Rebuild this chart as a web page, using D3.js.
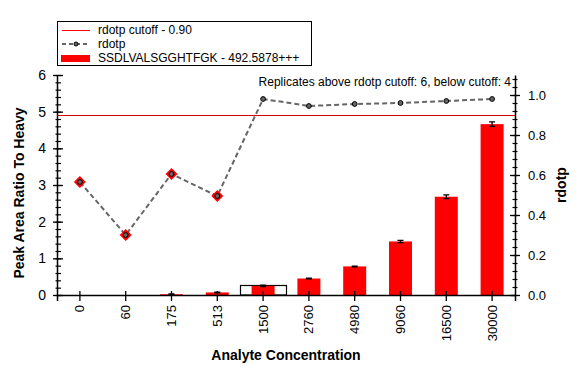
<!DOCTYPE html>
<html>
<head>
<meta charset="utf-8">
<script src="https://cdn.jsdelivr.net/npm/d3@7"></script>
<style>
  body { margin: 0; background: #fff; }
  text { font-family: "Liberation Sans", Arial, sans-serif; }
</style>
</head>
<body>
<div class="chart"></div>
<script>
// chart data
const concentrations = ["0", "60", "175", "513", "1500", "2760", "4980", "9060", "16500", "30000"];
const peakRatio = [0, 0, 0.02, 0.07, 0.25, 0.45, 0.78, 1.46, 2.68, 4.66];
const peakError = [0, 0, 0.01, 0.01, 0.02, 0.01, 0.01, 0.03, 0.05, 0.06];
const rdotp = [0.565, 0.30, 0.605, 0.495, 0.98, 0.945, 0.955, 0.96, 0.97, 0.98];
const cutoff = 0.9;
const selectedIndex = 4;
const selectedValue = 0.28;
const leftTicks = [0, 1, 2, 3, 4, 5, 6];
const rightTicks = [0, 0.2, 0.4, 0.6, 0.8, 1.0];

const width = 582, height = 376;
const margin = { top: 75, right: 67, bottom: 81, left: 57 };

const svg = d3.select(".chart").append("svg")
    .attr("width", width)
    .attr("height", height);

const x = d3.scaleBand()
    .domain(concentrations)
    .range([margin.left, width - margin.right])
    .paddingInner(0).paddingOuter(0);

const y = d3.scaleLinear()
    .domain([0, 6])
    .range([height - margin.bottom, margin.top]);

const y2 = d3.scaleLinear()
    .domain([0, 1.1])
    .range([height - margin.bottom, margin.top]);

const barW = 23;
const xc = d => x(d) + x.bandwidth() / 2;

// selection box (full band, outline)
svg.append("rect")
    .attr("x", Math.round(x(concentrations[selectedIndex])) + 0.5)
    .attr("y", Math.round(y(selectedValue)) + 0.5)
    .attr("width", Math.round(x.bandwidth()))
    .attr("height", y(0) - Math.round(y(selectedValue)) - 0.5)
    .attr("fill", "#fff")
    .attr("stroke", "#000")
    .attr("stroke-width", 1.2);

// bars
svg.append("g")
    .selectAll("rect")
    .data(concentrations)
    .join("rect")
    .attr("x", d => xc(d) - barW / 2)
    .attr("y", (d, i) => y(peakRatio[i]))
    .attr("width", barW)
    .attr("height", (d, i) => y(0) - y(peakRatio[i]))
    .attr("fill", "#ff0000");

// error bars
const err = svg.append("g")
    .attr("stroke", "#000")
    .attr("stroke-width", 1.3)
    .selectAll("g")
    .data(concentrations.filter((d, i) => peakRatio[i] > 0))
    .join("g");
err.append("path")
    .attr("fill", "none")
    .attr("d", d => {
        const i = concentrations.indexOf(d);
        const cx = xc(d);
        const lo = y(peakRatio[i] - peakError[i]), hi = y(peakRatio[i] + peakError[i]);
        return `M${cx},${lo}V${hi}M${cx - 3},${hi}h6M${cx - 3},${lo}h6`;
    });

// x axis
svg.append("g")
    .attr("transform", `translate(0,${y(0)})`)
    .call(d3.axisBottom(x).tickSizeOuter(0).tickSize(6).tickPadding(4))
    .call(g => g.select(".domain").attr("stroke-width", 1.5))
    .call(g => g.selectAll(".tick line").attr("y1", -4).attr("y2", 6).attr("stroke-width", 1.3))
    .call(g => g.selectAll(".tick text")
        .attr("transform", "rotate(-90)")
        .attr("x", -10).attr("y", 0).attr("dy", "0.35em")
        .style("text-anchor", "end")
        .style("font-size", "13px")
        .attr("fill", "#000"));

// left axis
svg.append("g")
    .attr("transform", `translate(${margin.left},0)`)
    .call(d3.axisLeft(y).tickValues(d3.range(0, 6.01, 0.2)).tickSize(0).tickFormat(""))
    .call(g => g.select(".domain").remove())
    .call(g => g.selectAll(".tick line").attr("x1", -1.5).attr("x2", 4).attr("stroke-width", 1.2));
svg.append("g")
    .attr("transform", `translate(${margin.left},0)`)
    .call(d3.axisLeft(y).tickValues(leftTicks).tickSize(4).tickSizeOuter(0).tickPadding(7).tickFormat(d3.format("d")))
    .call(g => g.select(".domain").attr("stroke-width", 1.5))
    .call(g => g.selectAll(".tick line").attr("x1", -4).attr("x2", 6).attr("stroke-width", 1.3))
    .call(g => g.selectAll(".tick text").style("font-size", "14px").attr("fill", "#000"));

// right axis
const rx = width - margin.right;
svg.append("g")
    .attr("transform", `translate(${rx},0)`)
    .call(d3.axisRight(y2).tickValues(d3.range(0, 1.081, 0.04)).tickSize(0).tickFormat(""))
    .call(g => g.select(".domain").remove())
    .call(g => g.selectAll(".tick line").attr("x1", -2.5).attr("x2", 2.5).attr("stroke-width", 1.2));
svg.append("g")
    .attr("transform", `translate(${rx},0)`)
    .call(d3.axisRight(y2).tickValues(rightTicks).tickSize(5).tickSizeOuter(0).tickPadding(8).tickFormat(d3.format(".1f")))
    .call(g => g.select(".domain").attr("stroke-width", 1.5))
    .call(g => g.selectAll(".tick line").attr("x1", -5).attr("x2", 5).attr("stroke-width", 1.3))
    .call(g => g.selectAll(".tick text").style("font-size", "13px").attr("fill", "#000"));

// cutoff line
const cy = Math.round(y2(cutoff)) + 0.5;
svg.append("line")
    .attr("x1", margin.left).attr("x2", rx)
    .attr("y1", cy).attr("y2", cy)
    .attr("stroke", "#d00000")
    .attr("stroke-width", 1);

// rdotp line
const line = d3.line()
    .x((d, i) => xc(concentrations[i]))
    .y(d => y2(d));
svg.append("path")
    .datum(rdotp)
    .attr("d", line)
    .attr("fill", "none")
    .attr("stroke", "#666")
    .attr("stroke-width", 2)
    .attr("stroke-dasharray", "5,3");

// red diamonds for points below cutoff
svg.append("g")
    .selectAll("path")
    .data(rdotp.map((v, i) => [i, v]).filter(d => d[1] < cutoff))
    .join("path")
    .attr("transform", d => `translate(${xc(concentrations[d[0]])},${y2(d[1])})`)
    .attr("d", "M0,-6L6,0L0,6L-6,0Z")
    .attr("fill", "#ff0000");

svg.append("g")
    .selectAll("circle")
    .data(rdotp)
    .join("circle")
    .attr("cx", (d, i) => xc(concentrations[i]))
    .attr("cy", d => y2(d))
    .attr("r", 2.4)
    .attr("fill", "#666")
    .attr("stroke", "#000")
    .attr("stroke-width", 1);

// annotation
svg.append("text")
    .attr("x", rx - 4)
    .attr("y", 86)
    .attr("text-anchor", "end")
    .style("font-size", "12px")
    .text("Replicates above rdotp cutoff: " + rdotp.filter(v => v >= cutoff).length +
          ", below cutoff: " + rdotp.filter(v => v < cutoff).length);

// axis titles
svg.append("text")
    .attr("x", (margin.left + rx) / 2)
    .attr("y", 360)
    .attr("text-anchor", "middle")
    .style("font-size", "14px")
    .style("font-weight", "bold")
    .text("Analyte Concentration");

svg.append("text")
    .attr("transform", `translate(24,${(y(0) + y(6)) / 2 + 8}) rotate(-90)`)
    .attr("text-anchor", "middle")
    .style("font-size", "14px")
    .style("font-weight", "bold")
    .text("Peak Area Ratio To Heavy");

svg.append("text")
    .attr("transform", `translate(566,${(y(0) + y(6)) / 2}) rotate(-90)`)
    .attr("text-anchor", "middle")
    .style("font-size", "14px")
    .style("font-weight", "bold")
    .text("rdotp");

// legend
const legend = svg.append("g");
legend.append("rect")
    .attr("x", 57.5).attr("y", 21.5)
    .attr("width", 254).attr("height", 44)
    .attr("fill", "#fff")
    .attr("stroke", "#000")
    .attr("stroke-width", 1);
legend.append("line")
    .attr("x1", 62).attr("x2", 90).attr("y1", 30.5).attr("y2", 30.5)
    .attr("stroke", "#ff0000").attr("stroke-width", 1);
legend.append("line")
    .attr("x1", 62).attr("x2", 90).attr("y1", 44).attr("y2", 44)
    .attr("stroke", "#666").attr("stroke-width", 2).attr("stroke-dasharray", "4,3");
legend.append("circle")
    .attr("cx", 76).attr("cy", 44).attr("r", 2)
    .attr("fill", "#666").attr("stroke", "#000");
legend.append("rect")
    .attr("x", 61).attr("y", 55).attr("width", 29).attr("height", 7)
    .attr("fill", "#ff0000");
const legendLabels = ["rdotp cutoff - " + cutoff.toFixed(2), "rdotp", "SSDLVALSGGHTFGK - 492.5878+++"];
legend.selectAll("text.lab")
    .data(legendLabels)
    .join("text")
    .attr("class", "lab")
    .attr("x", 98)
    .attr("y", (d, i) => 34 + i * 14)
    .style("font-size", "12px")
    .text(d => d);
</script>
</body>
</html>
